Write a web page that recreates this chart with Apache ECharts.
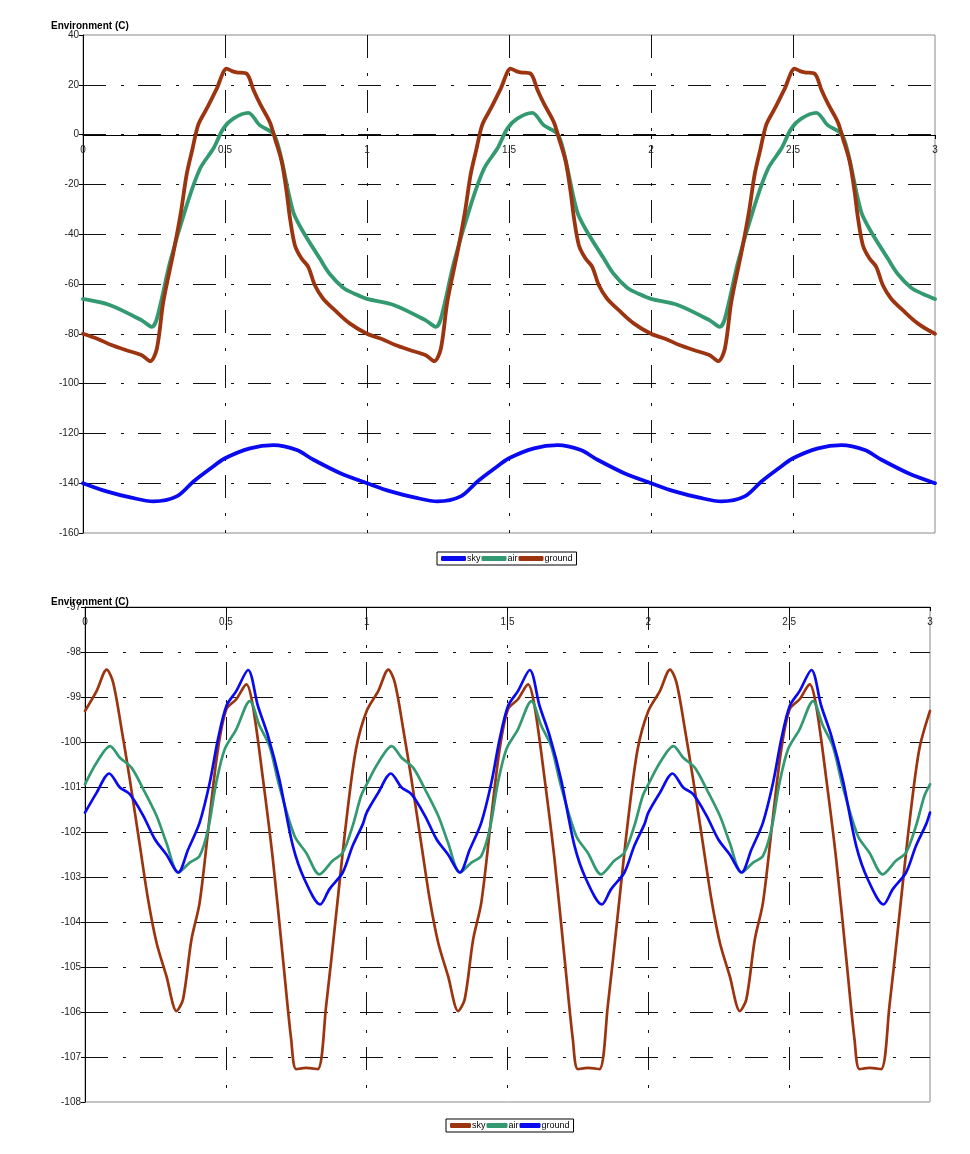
<!DOCTYPE html>
<html>
<head>
<meta charset="utf-8">
<script src="https://cdn.jsdelivr.net/npm/echarts@6/dist/echarts.min.js"></script>
<style>
html,body{margin:0;padding:0;background:#fff;}
#c1{position:absolute;left:0;top:0;width:970px;height:580px;}
#c2{position:absolute;left:0;top:580px;width:970px;height:574px;}
</style>
</head>
<body>
<div id="c1"></div>
<div id="c2"></div>
<script>
// ---------- Top chart data ----------
const topTitle = 'Environment (C)';
const topSeriesNames = ['sky', 'air', 'ground'];
const topXTicks = [0, 0.5, 1, 1.5, 2, 2.5, 3];

const topSkyX = [0,0.083,0.17,0.248,0.33,0.389,0.45,0.5,0.588,0.671,0.753,0.81,0.906,
  1,1.083,1.17,1.248,1.33,1.389,1.45,1.5,1.588,1.671,1.753,1.81,1.906,
  2,2.083,2.17,2.248,2.33,2.389,2.45,2.5,2.588,2.671,2.753,2.81,2.906,3];
const topSkyY = [-140,-143.3,-145.8,-147.3,-145.3,-139.3,-134,-130,-126,-124.7,-126.7,-130.5,-136,
  -140,-143.3,-145.8,-147.3,-145.3,-139.3,-134,-130,-126,-124.7,-126.7,-130.5,-136,
  -140,-143.3,-145.8,-147.3,-145.3,-139.3,-134,-130,-126,-124.7,-126.7,-130.5,-136,-140];

const topAirX = [0,0.096,0.207,0.242,0.26,0.307,0.365,0.412,0.459,0.494,0.529,0.582,0.623,0.67,0.693,0.74,0.775,0.834,0.869,0.916,0.958,
  1,1.096,1.207,1.242,1.26,1.307,1.365,1.412,1.459,1.494,1.529,1.582,1.623,1.67,1.693,1.74,1.775,1.834,1.869,1.916,1.958,
  2,2.096,2.207,2.242,2.26,2.307,2.365,2.412,2.459,2.494,2.529,2.582,2.623,2.67,2.693,2.74,2.775,2.834,2.869,2.916,2.958,3];
const topAirY = [-66,-68.5,-74.6,-77.2,-74,-51,-28.4,-13.7,-5.6,2.4,6.4,8.7,3.7,0.4,-7,-31,-39,-49.8,-56,-61.5,-64,
  -66,-68.5,-74.6,-77.2,-74,-51,-28.4,-13.7,-5.6,2.4,6.4,8.7,3.7,0.4,-7,-31,-39,-49.8,-56,-61.5,-64,
  -66,-68.5,-74.6,-77.2,-74,-51,-28.4,-13.7,-5.6,2.4,6.4,8.7,3.7,0.4,-7,-31,-39,-49.8,-56,-61.5,-64,-66];

const topGroundX = [0,0.05,0.1,0.15,0.207,0.237,0.26,0.283,0.319,0.345,0.365,0.385,0.406,0.436,0.471,0.506,0.525,0.541,0.576,0.6,0.623,0.658,0.676,0.7,0.717,0.729,0.746,0.769,0.793,0.816,0.845,0.892,0.939,
  1,1.05,1.1,1.15,1.207,1.237,1.26,1.283,1.319,1.345,1.365,1.385,1.406,1.436,1.471,1.506,1.525,1.541,1.576,1.6,1.623,1.658,1.676,1.7,1.717,1.729,1.746,1.769,1.793,1.816,1.845,1.892,1.939,
  2,2.05,2.1,2.15,2.207,2.237,2.26,2.283,2.319,2.345,2.365,2.385,2.406,2.436,2.471,2.506,2.525,2.541,2.576,2.6,2.623,2.658,2.676,2.7,2.717,2.729,2.746,2.769,2.793,2.816,2.845,2.892,2.939,3];
const topGroundY = [-80,-82,-84.5,-86.5,-88.6,-91,-86,-67,-47,-31,-16,-6,4,10.5,18.5,26.5,25.5,25,24.5,18,12.4,5,-1.6,-11,-23,-33.7,-44.4,-49.7,-53.1,-60.4,-65.8,-71.1,-75.8,
  -80,-82,-84.5,-86.5,-88.6,-91,-86,-67,-47,-31,-16,-6,4,10.5,18.5,26.5,25.5,25,24.5,18,12.4,5,-1.6,-11,-23,-33.7,-44.4,-49.7,-53.1,-60.4,-65.8,-71.1,-75.8,
  -80,-82,-84.5,-86.5,-88.6,-91,-86,-67,-47,-31,-16,-6,4,10.5,18.5,26.5,25.5,25,24.5,18,12.4,5,-1.6,-11,-23,-33.7,-44.4,-49.7,-53.1,-60.4,-65.8,-71.1,-75.8,-80];

// ---------- Bottom chart data ----------
const botTitle = 'Environment (C)';
const botSeriesNames = ['sky', 'air', 'ground'];

const botSkyX = [0,0.041,0.077,0.1,0.13,0.159,0.195,0.224,0.254,0.289,0.325,0.348,0.378,0.407,0.443,0.472,0.502,0.537,0.573,0.596,0.632,0.667,0.703,0.732,0.75,0.785,0.826,0.856,0.891,0.927,0.962,
  1,1.041,1.077,1.1,1.13,1.159,1.195,1.224,1.254,1.289,1.325,1.348,1.378,1.407,1.443,1.472,1.502,1.537,1.573,1.596,1.632,1.667,1.703,1.732,1.75,1.785,1.826,1.856,1.891,1.927,1.962,
  2,2.041,2.077,2.1,2.13,2.159,2.195,2.224,2.254,2.289,2.325,2.348,2.378,2.407,2.443,2.472,2.502,2.537,2.573,2.596,2.632,2.667,2.703,2.732,2.75,2.785,2.826,2.856,2.891,2.927,2.962,3];
const botSkyY = [-99.31,-98.87,-98.39,-98.68,-99.72,-100.83,-102.31,-103.5,-104.46,-105.2,-105.98,-105.72,-104.39,-103.57,-101.64,-100.16,-99.27,-99.05,-98.72,-99.2,-100.83,-102.61,-104.83,-106.61,-107.27,-107.24,-107.27,-105.87,-103.87,-101.79,-100.16,
  -99.31,-98.87,-98.39,-98.68,-99.72,-100.83,-102.31,-103.5,-104.46,-105.2,-105.98,-105.72,-104.39,-103.57,-101.64,-100.16,-99.27,-99.05,-98.72,-99.2,-100.83,-102.61,-104.83,-106.61,-107.27,-107.24,-107.27,-105.87,-103.87,-101.79,-100.16,
  -99.31,-98.87,-98.39,-98.68,-99.72,-100.83,-102.31,-103.5,-104.46,-105.2,-105.98,-105.72,-104.39,-103.57,-101.64,-100.16,-99.27,-99.05,-98.72,-99.2,-100.83,-102.61,-104.83,-106.61,-107.27,-107.24,-107.27,-105.87,-103.87,-101.79,-100.16,-99.31];

const botAirX = [0,0.041,0.089,0.124,0.165,0.207,0.254,0.289,0.331,0.372,0.407,0.437,0.466,0.496,0.537,0.585,0.62,0.655,0.69,0.744,0.785,0.832,0.879,0.915,0.95,0.98,
  1,1.041,1.089,1.124,1.165,1.207,1.254,1.289,1.331,1.372,1.407,1.437,1.466,1.496,1.537,1.585,1.62,1.655,1.69,1.744,1.785,1.832,1.879,1.915,1.95,1.98,
  2,2.041,2.089,2.124,2.165,2.207,2.254,2.289,2.331,2.372,2.407,2.437,2.466,2.496,2.537,2.585,2.62,2.655,2.69,2.744,2.785,2.832,2.879,2.915,2.95,2.98,3];
const botAirY = [-100.94,-100.46,-100.09,-100.35,-100.57,-101.05,-101.64,-102.24,-102.9,-102.68,-102.53,-101.94,-100.9,-100.16,-99.72,-99.09,-99.64,-100.09,-100.98,-102.09,-102.46,-102.94,-102.64,-102.46,-101.87,-101.2,
  -100.94,-100.46,-100.09,-100.35,-100.57,-101.05,-101.64,-102.24,-102.9,-102.68,-102.53,-101.94,-100.9,-100.16,-99.72,-99.09,-99.64,-100.09,-100.98,-102.09,-102.46,-102.94,-102.64,-102.46,-101.87,-101.2,
  -100.94,-100.46,-100.09,-100.35,-100.57,-101.05,-101.64,-102.24,-102.9,-102.68,-102.53,-101.94,-100.9,-100.16,-99.72,-99.09,-99.64,-100.09,-100.98,-102.09,-102.46,-102.94,-102.64,-102.46,-101.87,-101.2,-100.94];

const botGroundX = [0,0.041,0.086,0.124,0.159,0.207,0.248,0.289,0.331,0.366,0.407,0.443,0.472,0.502,0.537,0.579,0.614,0.65,0.69,0.738,0.779,0.835,0.868,0.915,0.95,0.986,
  1,1.041,1.086,1.124,1.159,1.207,1.248,1.289,1.331,1.366,1.407,1.443,1.472,1.502,1.537,1.579,1.614,1.65,1.69,1.738,1.779,1.835,1.868,1.915,1.95,1.986,
  2,2.041,2.086,2.124,2.159,2.207,2.248,2.289,2.331,2.366,2.407,2.443,2.472,2.502,2.537,2.579,2.614,2.65,2.69,2.738,2.779,2.835,2.868,2.915,2.95,2.986,3];
const botGroundY = [-101.57,-101.13,-100.7,-101.01,-101.16,-101.64,-102.16,-102.5,-102.9,-102.39,-101.79,-100.9,-99.94,-99.2,-98.87,-98.4,-99.2,-99.87,-100.83,-102.31,-103.05,-103.61,-103.27,-102.9,-102.31,-101.83,
  -101.57,-101.13,-100.7,-101.01,-101.16,-101.64,-102.16,-102.5,-102.9,-102.39,-101.79,-100.9,-99.94,-99.2,-98.87,-98.4,-99.2,-99.87,-100.83,-102.31,-103.05,-103.61,-103.27,-102.9,-102.31,-101.83,
  -101.57,-101.13,-100.7,-101.01,-101.16,-101.64,-102.16,-102.5,-102.9,-102.39,-101.79,-100.9,-99.94,-99.2,-98.87,-98.4,-99.2,-99.87,-100.83,-102.31,-103.05,-103.61,-103.27,-102.9,-102.31,-101.83,-101.57];

// ---------- Styling ----------
const FONT = "'Liberation Sans', Arial, sans-serif";
const BLUE = '#0a0af0', GREEN = '#339970', BROWN = '#9c3410';
const DASHDOT = [23, 15, 3, 14];

function zip(xs, ys) { return xs.map((x, i) => [x, ys[i]]); }

function makeSeries(name, xs, ys, color, width) {
  return {
    name: name, type: 'line', data: zip(xs, ys),
    showSymbol: false, symbol: 'none', smooth: 0.3,
    lineStyle: { color: color, width: width, cap: 'round', join: 'round' },
    itemStyle: { color: color }, z: 3
  };
}

function baseOption(cfg) {
  return {
    animation: false,
    textStyle: { fontFamily: FONT },
    title: {
      text: cfg.title, left: 46, top: cfg.titleTop,
      textStyle: { fontFamily: FONT, fontSize: 10, fontWeight: 'bold', color: '#000' }
    },
    legend: {
      left: cfg.legendLeft, top: cfg.legendTop, orient: 'horizontal',
      data: cfg.names,
      borderColor: '#000', borderWidth: 1, borderRadius: 0, padding: [2, 4, 2, 4],
      itemGap: 1, itemWidth: cfg.legendItemWidth, itemHeight: 5, icon: 'roundRect',
      textStyle: { fontFamily: FONT, fontSize: 9, color: '#000', padding: [0, 0, 0, -4] }
    },
    grid: {
      left: cfg.grid.left, top: cfg.grid.top, width: cfg.grid.width, height: cfg.grid.height,
      show: true, borderColor: '#8a8a8a', borderWidth: 1, backgroundColor: 'transparent',
      containLabel: false
    },
    xAxis: {
      type: 'value', min: 0, max: 3, interval: 0.5,
      position: cfg.xPos, offset: cfg.xOffset,
      axisLine: { show: true, onZero: false, lineStyle: { color: '#000', width: 1 } },
      axisTick: { show: true, inside: cfg.xInside, length: 4, lineStyle: { color: '#000' } },
      axisLabel: {
        show: true, inside: cfg.xInside, margin: cfg.xMargin, fontSize: 10, color: '#222', fontFamily: FONT,
        showMinLabel: true, showMaxLabel: true,
        formatter: v => String(v)
      },
      splitLine: { show: true, showMinLine: false, showMaxLine: false,
        lineStyle: { color: '#111', width: 1, type: DASHDOT } }
    },
    yAxis: {
      type: 'value', min: cfg.yMin, max: cfg.yMax, interval: cfg.yInterval,
      axisLine: { show: true, onZero: false, lineStyle: { color: '#000', width: 1 } },
      axisTick: { show: true, length: 4, lineStyle: { color: '#000' } },
      axisLabel: { show: true, margin: 4, fontSize: 10, color: '#222', fontFamily: FONT },
      splitLine: { show: true, showMinLine: false, showMaxLine: false,
        lineStyle: { color: '#111', width: 1, type: DASHDOT } }
    },
    series: cfg.series
  };
}

const c1 = echarts.init(document.getElementById('c1'), null, { renderer: 'canvas' });
c1.setOption(baseOption({
  title: topTitle, titleTop: 16,
  names: topSeriesNames, legendLeft: 437, legendTop: 552, legendItemWidth: 25,
  grid: { left: 83, top: 35, width: 852, height: 498 },
  xPos: 'bottom', xOffset: -398, xInside: false, xMargin: 10,
  yMin: -160, yMax: 40, yInterval: 20,
  series: [
    makeSeries('sky', topSkyX, topSkyY, BLUE, 3.8),
    makeSeries('air', topAirX, topAirY, GREEN, 3.8),
    makeSeries('ground', topGroundX, topGroundY, BROWN, 3.8)
  ]
}));

const c2 = echarts.init(document.getElementById('c2'), null, { renderer: 'canvas' });
c2.setOption(baseOption({
  title: botTitle, titleTop: 12,
  names: botSeriesNames, legendLeft: 446, legendTop: 539, legendItemWidth: 21,
  grid: { left: 85, top: 27, width: 845, height: 495 },
  xPos: 'top', xOffset: 0, xInside: true, xMargin: 10,
  yMin: -108, yMax: -97, yInterval: 1,
  series: [
    makeSeries('sky', botSkyX, botSkyY, BROWN, 2.7),
    makeSeries('air', botAirX, botAirY, GREEN, 2.7),
    makeSeries('ground', botGroundX, botGroundY, BLUE, 2.7)
  ]
}));
</script>
</body>
</html>
